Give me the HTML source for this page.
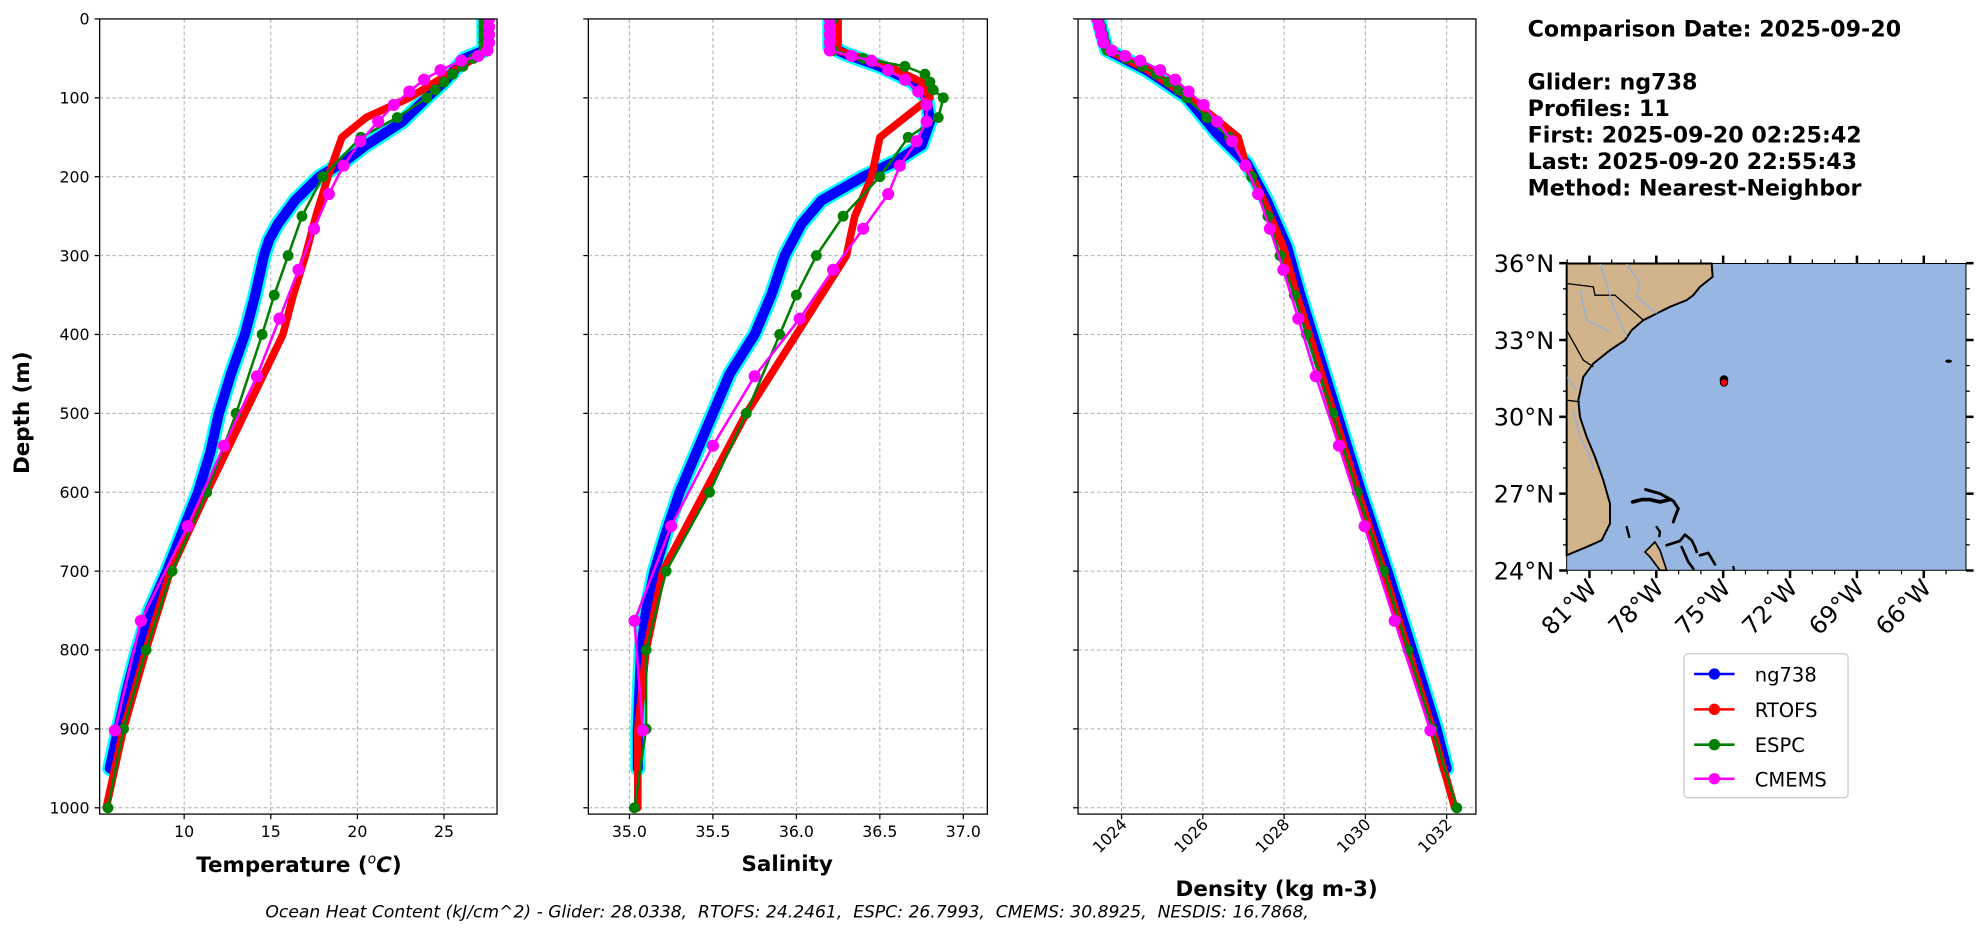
<!DOCTYPE html>
<html><head><meta charset="utf-8"><style>
html,body{margin:0;padding:0;background:#fff;}
svg{display:block;}
text{font-family:"DejaVu Sans","Liberation Sans",sans-serif;fill:#000;white-space:pre;}
</style></head><body>
<svg id="s" width="1978" height="934" viewBox="0 0 1568 740" preserveAspectRatio="none" xmlns="http://www.w3.org/2000/svg">
<rect width="1568" height="740" fill="#fff"/>
<g id="plots"></g>
<!-- map -->
<g transform="scale(0.79271) translate(1560,250) scale(0.33333)">
<rect x="20" y="40" width="1198" height="920" fill="#98b6e2"/>
<path d="M20,40 L455,40 L458,80 L420,110 L400,135 L380,150 L330,170 L290,190 L250,210 L215,240 L195,270 L150,300 L100,340 L70,380 L55,450 L60,500 L80,560 L105,620 L130,690 L150,760 L150,820 L125,870 L80,890 L20,915 Z" fill="#d2b48c" stroke="#000" stroke-width="6"/>
<path d="M20,100 L100,110 L105,135 L165,135 L250,210 M20,240 L70,330 L100,350 M20,450 L60,455" stroke="#000" stroke-width="4" fill="none"/>
<path d="M120,40 L140,100 L160,170 L200,260 M200,40 L240,100 L230,140 L290,190 M60,120 L80,210 L150,245 M20,380 L50,420 M40,480 L60,560 L90,620 L100,660" stroke="#8fb0dc" stroke-width="4" fill="none"/>
<path d="M265,895 L285,875 L300,900 L320,960 L300,960 L270,920 L255,905 Z" fill="#d2b48c" stroke="#000" stroke-width="5"/>
<g stroke="#000" fill="none" stroke-linecap="round" stroke-linejoin="round">
<path d="M218,755 L245,748 L270,748 L300,755 L330,748" stroke-width="11"/>
<path d="M257,718 L300,730 L340,752 L355,775 L345,800 L340,815" stroke-width="9"/>
<path d="M320,885 L360,872 L375,853 L395,870 L405,890 L410,905" stroke-width="8"/>
<path d="M365,890 L385,935 L400,955" stroke-width="8"/>
<path d="M420,915 L445,908 L455,925 L465,942" stroke-width="8"/>
<path d="M200,830 L208,860 M290,830 L300,845 L298,858 M520,950 L522,958" stroke-width="7"/>
</g>
<ellipse cx="1166" cy="333" rx="10" ry="5" fill="#000"/>
<circle cx="492" cy="388" r="13" fill="#000"/>
<circle cx="492" cy="397" r="11" fill="#f00" stroke="#000" stroke-width="3"/>
<rect x="20" y="40" width="1198" height="920" fill="none" stroke="#000" stroke-width="3"/>
</g>
<g id="maptext"></g>
<!-- info text -->
<g font-weight="bold" font-size="17.6">
<text x="1211" y="29">Comparison Date: 2025-09-20</text>
<text x="1211" y="71">Glider: ng738</text>
<text x="1211" y="92">Profiles: 11</text>
<text x="1211" y="113">First: 2025-09-20 02:25:42</text>
<text x="1211" y="134">Last: 2025-09-20 22:55:43</text>
<text x="1211" y="155">Method: Nearest-Neighbor</text>
</g>
<!-- legend -->
<rect x="1335" y="518" width="130" height="114" rx="3" fill="#fff" stroke="#ccc"/>
<g font-size="15.5">
<line x1="1343" y1="534" x2="1375" y2="534" stroke="#0000ff" stroke-width="2"/><circle cx="1359" cy="534" r="4.5" fill="#0000ff"/><text x="1391" y="540">ng738</text>
<line x1="1343" y1="562" x2="1375" y2="562" stroke="#ff0000" stroke-width="2"/><circle cx="1359" cy="562" r="4.5" fill="#ff0000"/><text x="1391" y="568">RTOFS</text>
<line x1="1343" y1="590" x2="1375" y2="590" stroke="#008000" stroke-width="2"/><circle cx="1359" cy="590" r="4.5" fill="#008000"/><text x="1391" y="596">ESPC</text>
<line x1="1343" y1="617" x2="1375" y2="617" stroke="#ff00ff" stroke-width="2"/><circle cx="1359" cy="617" r="4.5" fill="#ff00ff"/><text x="1391" y="623">CMEMS</text>
</g>
<text x="624" y="727" font-size="13.6" font-style="italic" text-anchor="middle" xml:space="preserve">Ocean Heat Content (kJ/cm^2) - Glider: 28.0338,  RTOFS: 24.2461,  ESPC: 26.7993,  CMEMS: 30.8925,  NESDIS: 16.7868,</text>
</svg>
<script>
const NS="http://www.w3.org/2000/svg";
const G=document.getElementById('plots');
function el(t,a,txt){const e=document.createElementNS(NS,t);for(const k in a)e.setAttribute(k,a[k]);if(txt!==undefined)e.textContent=txt;return e;}
const Y0=15,YB=645;const yd=d=>Y0+d*0.625;
const panels=[
 {x0:79,x1:394,v0:5.12,v1:28.06,ticks:[10,15,20,25],fmt:v=>v,rot:false},
 {x0:466.4,x1:782.7,v0:34.754,v1:37.144,ticks:[35,35.5,36,36.5,37],fmt:v=>v.toFixed(1),rot:false},
 {x0:854.6,x1:1170,v0:1022.93,v1:1032.72,ticks:[1024,1026,1028,1030,1032],fmt:v=>v,rot:true}
];
const CD=[0,10,20,30,40,47,53,65,77,92,109,130,155,186,222,266,318,380,453,541,643,763,902];
const data=[
{glider:[[0,27.3],[40,27.3],[50,26.2],[80,25],[100,24],[130,22.6],[160,20.5],[180,19.3],[200,17.8],[230,16.4],[260,15.4],[280,14.9],[300,14.6],[350,14.1],[400,13.5],[450,12.7],[500,12],[550,11.5],[600,10.8],[650,9.9],[700,9],[750,8],[800,7.3],[850,6.7],[900,6.2],[950,5.7]],
 rtofs:[[0,27.5],[40,27.5],[60,26],[100,23],[125,20.5],[150,19.1],[200,18.3],[250,17.6],[300,17],[350,16.3],[400,15.7],[500,13.5],[600,11.3],[700,9.2],[800,7.8],[900,6.5],[1000,5.5]],
 espc:[[0,27.3],[40,27.3],[70,25.5],[100,24],[125,22.3],[150,20.2],[200,18],[250,16.8],[300,16],[350,15.2],[400,14.5],[500,13],[600,11.3],[700,9.3],[800,7.8],[900,6.5],[1000,5.6]],
 espcM:[0,10,20,30,40,50,60,70,80,90,100,125,150,200,250,300,350,400,500,600,700,800,900,1000],
 cmems:[27.6,27.6,27.6,27.6,27.5,26.97,26.0,24.8,23.85,23.0,22.1,21.2,20.17,19.2,18.35,17.5,16.6,15.5,14.2,12.3,10.2,7.5,6.0]},
{glider:[[0,36.2],[35,36.2],[45,36.3],[60,36.5],[80,36.7],[100,36.78],[130,36.8],[160,36.75],[180,36.6],[200,36.4],[230,36.15],[260,36.03],[300,35.93],[350,35.85],[400,35.75],[450,35.6],[500,35.5],[550,35.4],[600,35.3],[650,35.22],[700,35.15],[750,35.1],[800,35.07],[900,35.05],[950,35.05]],
 rtofs:[[0,36.25],[40,36.25],[60,36.55],[80,36.75],[100,36.8],[125,36.65],[150,36.5],[200,36.45],[250,36.35],[300,36.3],[400,36.0],[500,35.7],[600,35.45],[700,35.2],[800,35.1],[900,35.05],[1000,35.05]],
 espc:[[0,36.22],[40,36.22],[50,36.4],[60,36.65],[70,36.77],[80,36.8],[90,36.82],[100,36.88],[125,36.85],[150,36.67],[200,36.5],[250,36.28],[300,36.12],[350,36.0],[400,35.9],[500,35.7],[600,35.48],[700,35.22],[800,35.1],[900,35.1],[1000,35.03]],
 cmems:[36.2,36.2,36.2,36.2,36.2,36.33,36.45,36.55,36.65,36.73,36.78,36.78,36.72,36.62,36.55,36.4,36.22,36.02,35.75,35.5,35.25,35.03,35.08]},
{glider:[[0,1023.43],[39,1023.63],[65,1024.62],[99,1025.6],[145,1026.34],[183,1027.08],[230,1027.57],[289,1028.07],[348,1028.39],[400,1028.7],[500,1029.3],[600,1029.9],[700,1030.54],[800,1031.15],[900,1031.75],[950,1032.0]],
 rtofs:[[0,1023.45],[39,1023.65],[65,1024.65],[99,1025.65],[130,1026.4],[150,1026.87],[183,1027.05],[230,1027.5],[289,1027.98],[348,1028.3],[400,1028.62],[500,1029.22],[600,1029.82],[700,1030.45],[800,1031.05],[900,1031.65],[1000,1032.2]],
 espc:[[0,1023.45],[40,1023.65],[50,1024.1],[60,1024.5],[70,1024.85],[80,1025.15],[90,1025.4],[100,1025.6],[125,1026.1],[150,1026.65],[200,1027.2],[250,1027.6],[300,1027.9],[350,1028.25],[400,1028.55],[500,1029.2],[600,1029.8],[700,1030.45],[800,1031.05],[900,1031.65],[1000,1032.25]],
 espcM:[0,10,20,30,40,50,60,70,80,90,100,125,150,200,250,300,350,400,500,600,700,800,900,1000],
 cmems:[1023.4,1023.45,1023.5,1023.55,1023.76,1024.09,1024.46,1024.95,1025.32,1025.65,1026.02,1026.35,1026.72,1027.05,1027.36,1027.65,1027.98,1028.35,1028.78,1029.35,1029.98,1030.72,1031.6]}
];
function interp(arr,d){for(let i=0;i<arr.length-1;i++){if(d>=arr[i][0]&&d<=arr[i+1][0]){const t=(d-arr[i][0])/(arr[i+1][0]-arr[i][0]);return arr[i][1]+t*(arr[i+1][1]-arr[i][1]);}}return arr[arr.length-1][1];}
panels.forEach((p,i)=>{
 const xv=v=>p.x0+(v-p.v0)*(p.x1-p.x0)/(p.v1-p.v0);
 const cp="c"+i;
 const defs=el('defs',{});const c=el('clipPath',{id:cp});c.appendChild(el('rect',{x:p.x0,y:Y0,width:p.x1-p.x0,height:YB-Y0}));defs.appendChild(c);G.appendChild(defs);
 const grid=el('g',{stroke:'#b0b0b0','stroke-width':0.8,'stroke-dasharray':'3,2'});
 for(let d=100;d<=1000;d+=100)grid.appendChild(el('line',{x1:p.x0,x2:p.x1,y1:yd(d),y2:yd(d)}));
 p.ticks.forEach(t=>grid.appendChild(el('line',{x1:xv(t),x2:xv(t),y1:Y0,y2:YB})));
 G.appendChild(grid);
 const g=el('g',{'clip-path':`url(#${cp})`,fill:'none','stroke-linejoin':'round','stroke-linecap':'round'});
 const D=data[i];
 const cm=D.cmems.map((v,k)=>[CD[k],v]);
 const pth=arr=>arr.map((q,k)=>(k?'L':'M')+xv(q[1]).toFixed(1)+','+yd(q[0]).toFixed(1)).join(' ');
 g.appendChild(el('path',{d:pth(D.glider),stroke:'#00ffff','stroke-width':12}));
 g.appendChild(el('path',{d:pth(D.glider),stroke:'#0000ff','stroke-width':8}));
 g.appendChild(el('path',{d:pth(D.rtofs),stroke:'#ff0000','stroke-width':6}));
 g.appendChild(el('path',{d:pth(D.espc),stroke:'#008000','stroke-width':2}));
 const em=D.espcM||D.espc.map(q=>q[0]);
 em.forEach(d=>g.appendChild(el('circle',{cx:xv(interp(D.espc,d)),cy:yd(d),r:4.3,fill:'#008000',stroke:'none'})));
 g.appendChild(el('path',{d:pth(cm),stroke:'#ff00ff','stroke-width':2}));
 cm.forEach(q=>g.appendChild(el('circle',{cx:xv(q[1]),cy:yd(q[0]),r:4.8,fill:'#ff00ff',stroke:'none'})));
 G.appendChild(g);
 G.appendChild(el('rect',{x:p.x0,y:Y0,width:p.x1-p.x0,height:YB-Y0,fill:'none',stroke:'#000','stroke-width':1}));
 for(let d=0;d<=1000;d+=100){G.appendChild(el('line',{x1:p.x0-4,x2:p.x0,y1:yd(d),y2:yd(d),stroke:'#000'}));
  if(i==0)G.appendChild(el('text',{x:p.x0-8,y:yd(d)+4.5,'font-size':12.5,'text-anchor':'end'},d));}
 p.ticks.forEach(t=>{G.appendChild(el('line',{x1:xv(t),x2:xv(t),y1:YB,y2:YB+4,stroke:'#000'}));
  if(p.rot){const tx=el('text',{x:0,y:0,'font-size':12.5,'text-anchor':'end',transform:`translate(${xv(t)+5},${YB+9}) rotate(-45)`},p.fmt(t));G.appendChild(tx);}
  else G.appendChild(el('text',{x:xv(t),y:YB+18,'font-size':12.5,'text-anchor':'middle'},p.fmt(t)));});
});
const tl=el('text',{x:237,y:691,'font-size':17,'font-weight':'bold','text-anchor':'middle'});
tl.innerHTML='Temperature (<tspan font-style="italic" font-weight="normal" font-size="11" dy="-7">o</tspan><tspan font-style="italic" dy="7">C</tspan>)';
G.appendChild(tl);
G.appendChild(el('text',{x:624,y:690,'font-size':17,'font-weight':'bold','text-anchor':'middle'},'Salinity'));
G.appendChild(el('text',{x:1012,y:710,'font-size':17,'font-weight':'bold','text-anchor':'middle'},'Density (kg m-3)'));
G.appendChild(el('text',{x:0,y:0,'font-size':17,'font-weight':'bold','text-anchor':'middle',transform:'translate(23,327) rotate(-90)'},'Depth (m)'));
const M=document.getElementById('maptext');
const mx0=1242,mx1=1558.5,my0=208.5,my1=452;
const lonx=l=>1366+(l+75)*17.67;const laty=l=>my1-(l-24)*(my1-my0)/12;
[36,33,30,27,24].forEach(l=>{M.appendChild(el('line',{x1:mx0-6,x2:mx0,y1:laty(l),y2:laty(l),stroke:'#000','stroke-width':2}));
 M.appendChild(el('line',{x1:mx1,x2:mx1+6,y1:laty(l),y2:laty(l),stroke:'#000','stroke-width':2}));
 M.appendChild(el('text',{x:mx0-10,y:laty(l)+7,'font-size':19,'text-anchor':'end'},l+'°N'));});
for(let l=25;l<36;l++){if(l%3)[mx0-3,mx1].forEach(x=>M.appendChild(el('line',{x1:x,x2:x+3,y1:laty(l),y2:laty(l),stroke:'#000'})));}
[-81,-78,-75,-72,-69,-66].forEach(l=>{const x=lonx(l);
 M.appendChild(el('line',{x1:x,x2:x,y1:my1,y2:my1+6,stroke:'#000','stroke-width':2}));
 M.appendChild(el('line',{x1:x,x2:x,y1:my0-6,y2:my0,stroke:'#000','stroke-width':2}));
 M.appendChild(el('text',{x:0,y:0,'font-size':19,'text-anchor':'end',transform:`translate(${x+7},${my1+15}) rotate(-45)`},(-l)+'°W'));});
for(let l=-82;l<=-64;l++){if(l%3){const x=lonx(l);if(x>mx0&&x<mx1){M.appendChild(el('line',{x1:x,x2:x,y1:my1,y2:my1+3,stroke:'#000'}));M.appendChild(el('line',{x1:x,x2:x,y1:my0-3,y2:my0,stroke:'#000'}));}}}
</script>
</body></html>
